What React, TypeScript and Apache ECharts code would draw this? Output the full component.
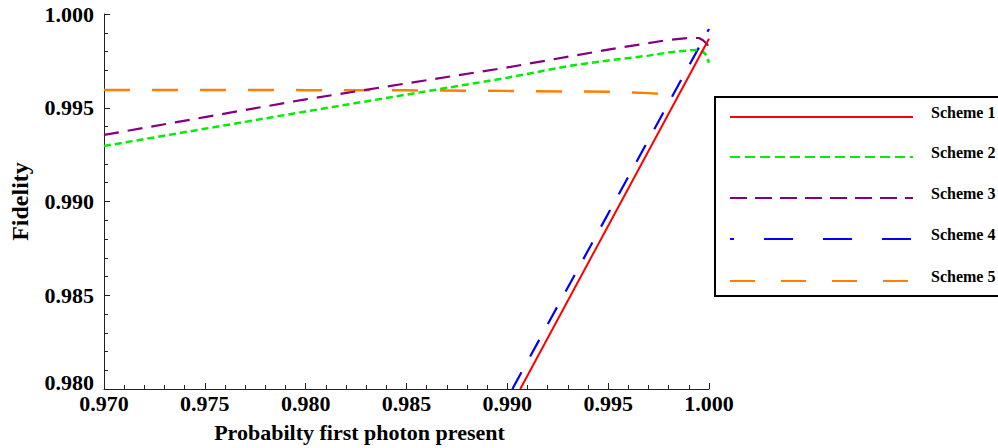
import React, { useEffect, useRef } from "react";
import * as echarts from "echarts";

const xTicks = [0.97, 0.975, 0.98, 0.985, 0.99, 0.995, 1.0];
const yTicks = [0.98, 0.985, 0.99, 0.995, 1.0];

const schemeNames = ["Scheme 1", "Scheme 2", "Scheme 3", "Scheme 4", "Scheme 5"];
const schemeColors = ["#ff0000", "#00ee00", "#800080", "#0000ff", "#ff8000"];

const scheme1P = [0.99064, 1.0];
const scheme1F = [0.98, 0.99868];

const scheme2P = [0.97, 0.975, 0.98, 0.985, 0.99, 0.993, 0.995, 0.997, 0.998, 0.999, 0.9995, 0.9998, 0.9999, 1.0];
const scheme2F = [0.99296, 0.99388, 0.9948, 0.9957, 0.9966, 0.99722, 0.99752, 0.99778, 0.99795, 0.99806, 0.99808, 0.9979, 0.9977, 0.9974];

const scheme3P = [0.97, 0.975, 0.98, 0.985, 0.99, 0.995, 0.997, 0.998, 0.999, 0.9995, 0.9997, 0.9999, 1.0];
const scheme3F = [0.99355, 0.9945, 0.99545, 0.9963, 0.99715, 0.9981, 0.99845, 0.99862, 0.99872, 0.99872, 0.9986, 0.9984, 0.9982];

const scheme4P = [0.99025, 1.0];
const scheme4F = [0.98, 0.9992];

const scheme5P = [0.97, 0.975, 0.98, 0.985, 0.99, 0.995, 0.997, 0.998];
const scheme5F = [0.99595, 0.99595, 0.99594, 0.99593, 0.9959, 0.99585, 0.99578, 0.9957];

const plotDash: (number[] | null)[] = [null, [7, 4], [15, 9], [19, 18], [26, 22]];
const legendDash: (number[] | null)[] = [null, [10, 5], [17, 8], [29, 30], [25, 26]];
const legendDashOffset = [0, 0, 0, 25, 0];

function zip(xs: number[], ys: number[]) {
  return xs.map((x, i) => [x, ys[i]]);
}

export default function App() {
  const ref = useRef<HTMLDivElement>(null);
  useEffect(() => {
    if (!ref.current) return;
    const chart = echarts.init(ref.current, undefined, { renderer: "svg" });
    const font = "Liberation Serif";
    const datasets = [
      zip(scheme1P, scheme1F),
      zip(scheme2P, scheme2F),
      zip(scheme3P, scheme3F),
      zip(scheme4P, scheme4F),
      zip(scheme5P, scheme5F),
    ];
    const widths = [2, 2.5, 2.2, 2.2, 2.5];
    const series = datasets.map((d, i) => ({
      name: schemeNames[i],
      type: "line",
      data: d,
      showSymbol: false,
      symbol: "none",
      clip: true,
      lineStyle: {
        color: schemeColors[i],
        width: widths[i],
        type: plotDash[i] ? plotDash[i] : "solid",
      },
      z: 10 - i,
    }));

    const legendTop = 97;
    const rowY = [117, 157, 198, 239, 281];
    const legendChildren: any[] = [
      {
        type: "rect",
        shape: { x: 715, y: legendTop, width: 300, height: 199 },
        style: { fill: "#ffffff", stroke: "#000000", lineWidth: 2 },
      },
    ];
    rowY.forEach((y, i) => {
      legendChildren.push({
        type: "line",
        shape: { x1: 730, y1: y, x2: 913, y2: y },
        style: {
          stroke: schemeColors[i],
          lineWidth: 2,
          lineDash: legendDash[i] ? legendDash[i] : null,
          lineDashOffset: legendDashOffset[i],
        },
      });
      legendChildren.push({
        type: "text",
        x: 931,
        y: y - 5,
        style: {
          text: schemeNames[i],
          font: `bold 16px "${font}"`,
          fill: "#000",
          textAlign: "left",
          textVerticalAlign: "middle",
        },
      });
    });

    const labelStyle = {
      fontFamily: font,
      fontWeight: "bold",
      fontSize: 22,
      color: "#000",
    };

    chart.setOption({
      animation: false,
      grid: { left: 102, right: 289, top: 14, bottom: 59, containLabel: false },
      xAxis: {
        type: "value",
        min: xTicks[0],
        max: xTicks[xTicks.length - 1],
        interval: 0.005,
        name: "Probabilty first photon present",
        nameLocation: "middle",
        nameGap: 32,
        nameTextStyle: {
          fontFamily: font,
          fontWeight: "bold",
          fontSize: 22,
          color: "#000",
          padding: [0, 94, 0, 0],
          verticalAlign: "top",
        },
        axisLine: { show: true, onZero: false, lineStyle: { color: "#222", width: 1 } },
        axisTick: { show: true, inside: true, length: 6, lineStyle: { color: "#222" } },
        minorTick: { show: true, splitNumber: 5, length: 4, lineStyle: { color: "#222" } },
        splitLine: { show: false },
        axisLabel: {
          margin: 3,
          ...labelStyle,
          formatter: (v: number) => v.toFixed(3),
        },
      },
      yAxis: {
        type: "value",
        min: yTicks[0],
        max: yTicks[yTicks.length - 1],
        interval: 0.005,
        name: "Fidelity",
        nameLocation: "middle",
        nameGap: 72,
        nameRotate: 90,
        nameTextStyle: {
          fontFamily: font,
          fontWeight: "bold",
          fontSize: 24,
          color: "#000",
        },
        axisLine: { show: true, onZero: false, lineStyle: { color: "#222", width: 1 } },
        axisTick: { show: true, inside: true, length: 6, lineStyle: { color: "#222" } },
        minorTick: { show: true, splitNumber: 5, length: 4, lineStyle: { color: "#222" } },
        splitLine: { show: false },
        axisLabel: {
          margin: 10,
          ...labelStyle,
          formatter: (v: number) =>
            Math.abs(v - yTicks[0]) < 1e-9 ? `{low|${v.toFixed(3)}}` : v.toFixed(3),
          rich: {
            low: { ...labelStyle, padding: [0, 0, 14, 0] },
          },
        },
      },
      series,
      graphic: [{ type: "group", z: 100, children: legendChildren }],
    });
    return () => chart.dispose();
  }, []);
  return (
    <div
      ref={ref}
      style={{ position: "fixed", left: 0, top: 0, width: 998, height: 448, background: "#fff" }}
    />
  );
}
